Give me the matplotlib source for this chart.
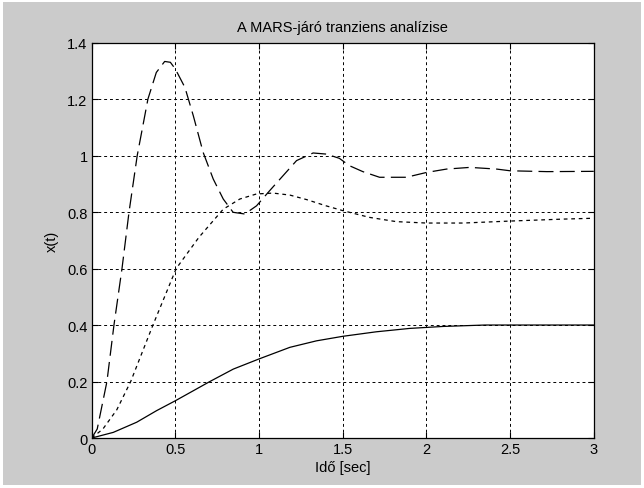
import matplotlib
matplotlib.use("Agg")
import matplotlib.pyplot as plt

plt.rcParams['font.family'] = ['Liberation Sans', 'DejaVu Sans']

# solid curve
t_solid = [0, 0.129, 0.269, 0.388, 0.5, 0.6, 0.706, 0.846, 1.0, 1.184,
           1.343, 1.5, 1.7, 1.9, 2.1, 2.35, 2.6, 3.0]
x_solid = [0, 0.02, 0.056, 0.097, 0.132, 0.165, 0.2, 0.244, 0.28, 0.321,
           0.344, 0.36, 0.376, 0.388, 0.395, 0.4, 0.4, 0.4]

# dashed curve
t_dash = [0, 0.033, 0.091, 0.133, 0.181, 0.223, 0.272, 0.336, 0.386, 0.436,
          0.47, 0.5, 0.557, 0.607, 0.666, 0.726, 0.786, 0.845, 0.915, 0.985,
          1.064, 1.144, 1.224, 1.323, 1.403, 1.48, 1.54, 1.62, 1.72, 1.88,
          2.0, 2.12, 2.26, 2.42, 2.5, 2.72, 3.0]
x_dash = [0, 0.032, 0.2, 0.4, 0.6, 0.8, 1.0, 1.2, 1.294, 1.333,
          1.33, 1.306, 1.241, 1.141, 1.011, 0.917, 0.846, 0.799, 0.793, 0.822,
          0.876, 0.929, 0.982, 1.009, 1.005, 0.99, 0.964, 0.943, 0.923, 0.923,
          0.94, 0.952, 0.958, 0.952, 0.946, 0.943, 0.944]

# dotted curve
t_dot = [0, 0.067, 0.15, 0.233, 0.366, 0.505, 0.64, 0.726, 0.786, 0.885,
         0.985, 1.084, 1.184, 1.284, 1.4, 1.5, 1.66, 1.82, 2.0, 2.22,
         2.5, 2.82, 3.0]
x_dot = [0, 0.032, 0.1, 0.2, 0.4, 0.6, 0.71, 0.769, 0.81, 0.846,
         0.864, 0.867, 0.86, 0.844, 0.822, 0.805, 0.781, 0.766, 0.761, 0.761,
         0.768, 0.775, 0.778]

xticks = [0, 0.5, 1, 1.5, 2, 2.5, 3]
yticks = [0, 0.2, 0.4, 0.6, 0.8, 1, 1.2, 1.4]

bg = '#cbcbcb'
fig = plt.figure(figsize=(6.44, 4.89), dpi=100, facecolor=bg)
fig.patch.set_edgecolor('white')
fig.patch.set_linewidth(3)
ax = fig.add_axes([0.1424, 0.1022, 0.7796, 0.8088])

ax.plot(t_solid, x_solid, color='k', lw=0.9, ls='-')
ax.plot(t_dash, x_dash, color='k', lw=0.9, ls=(0, (12, 5)))
ax.plot(t_dot, x_dot, color='k', lw=0.9, ls=(0, (3, 3)))

ax.set_xlim(0, 3)
ax.set_ylim(0, 1.4)
ax.set_xticks(xticks)
ax.set_xticklabels(['0', '0.5', '1', '1.5', '2', '2.5', '3'])
ax.set_yticks(yticks)
ax.set_yticklabels(['0', '0.2', '0.4', '0.6', '0.8', '1', '1.2', '1.4'])
ax.grid(True, color='k', ls=(0, (3, 3)), lw=0.7)
ax.tick_params(direction='in', top=True, right=True, labelsize=10.5,
               length=4, pad=3)
for s in ax.spines.values():
    s.set_linewidth(0.9)

ax.set_title('A MARS-járó tranziens analízise', fontsize=10.5, pad=8)
ax.set_xlabel('Idő [sec]', fontsize=10.5, labelpad=3)
ax.set_ylabel('x(t)', fontsize=10.5, labelpad=6)

fig.savefig('out.png', dpi=100, facecolor=bg, edgecolor='white')
